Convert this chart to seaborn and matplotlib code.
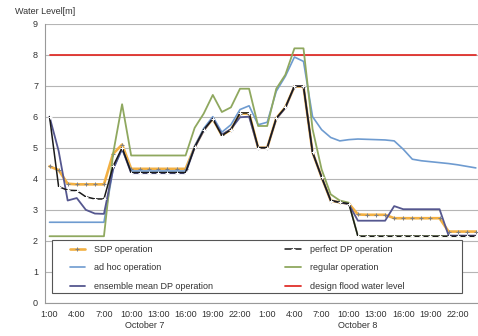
import matplotlib
matplotlib.use("Agg")
import matplotlib.pyplot as plt
from matplotlib.patches import Rectangle
import seaborn as sns

# --- data (hourly, 1:00 Oct 7 .. 24:00 Oct 8) ---
hours = list(range(48))
tick_pos = list(range(0, 48, 3))
tick_labels = ["1:00", "4:00", "7:00", "10:00", "13:00", "16:00", "19:00", "22:00"] * 2
day_labels = ["October 7", "October 8"]

sdp = [4.40, 4.28, 3.84, 3.82, 3.82, 3.82, 3.82, 4.80, 5.10, 4.32, 4.32, 4.32,
       4.32, 4.32, 4.32, 4.32, 5.02, 5.57, 5.93, 5.40, 5.58, 6.10, 6.10, 5.00,
       5.00, 5.95, 6.30, 6.97, 6.97, 4.85, 4.05, 3.30, 3.24, 3.20, 2.85, 2.84,
       2.84, 2.84, 2.73, 2.73, 2.73, 2.73, 2.73, 2.73, 2.30, 2.30, 2.30, 2.30]
ad_hoc = [2.60, 2.60, 2.60, 2.60, 2.60, 2.60, 2.60, 4.30, 4.95, 4.25, 4.25, 4.25,
          4.25, 4.25, 4.25, 4.25, 5.05, 5.62, 6.00, 5.50, 5.74, 6.23, 6.35, 5.74,
          5.82, 6.82, 7.30, 7.92, 7.78, 6.00, 5.58, 5.33, 5.22, 5.26, 5.28, 5.27,
          5.26, 5.25, 5.22, 4.95, 4.63, 4.58, 4.55, 4.52, 4.49, 4.45, 4.40, 4.35]
ensemble = [6.00, 4.90, 3.30, 3.38, 3.00, 2.88, 2.87, 4.30, 4.97, 4.18, 4.18, 4.18,
            4.18, 4.18, 4.18, 4.18, 5.00, 5.55, 5.95, 5.42, 5.60, 5.98, 6.00, 5.00,
            5.00, 5.93, 6.28, 6.98, 6.98, 4.85, 4.05, 3.30, 3.24, 3.18, 2.65, 2.65,
            2.65, 2.65, 3.12, 3.02, 3.02, 3.02, 3.02, 3.02, 2.17, 2.17, 2.17, 2.17]
perfect = [6.00, 3.75, 3.63, 3.62, 3.42, 3.35, 3.35, 4.40, 5.00, 4.20, 4.20, 4.20,
           4.20, 4.20, 4.20, 4.20, 5.02, 5.58, 5.93, 5.39, 5.58, 6.12, 6.12, 5.00,
           5.00, 5.95, 6.30, 6.98, 6.98, 4.85, 4.05, 3.30, 3.24, 3.20, 2.15, 2.15,
           2.15, 2.15, 2.15, 2.15, 2.15, 2.15, 2.15, 2.15, 2.15, 2.15, 2.15, 2.15]
regular = [2.15, 2.15, 2.15, 2.15, 2.15, 2.15, 2.15, 4.80, 6.40, 4.75, 4.75, 4.75,
           4.75, 4.75, 4.75, 4.75, 5.64, 6.10, 6.70, 6.15, 6.30, 6.90, 6.90, 5.70,
           5.70, 6.90, 7.35, 8.20, 8.20, 5.60, 4.30, 3.50, 3.30, 3.23, 2.15, 2.15,
           2.15, 2.15, 2.15, 2.15, 2.15, 2.15, 2.15, 2.15, 2.15, 2.15, 2.15, 2.15]
design_level = [8.0] * 48

sns.set_style("white")
plt.rcParams['font.family'] = ['Liberation Sans', 'DejaVu Sans']

fig = plt.figure(figsize=(4.78, 3.36), dpi=100)
ax = fig.add_axes([45 / 478, 33 / 336, 433 / 478, 279.5 / 336])

sns.lineplot(x=hours, y=design_level, ax=ax, color='#E0302B', linewidth=1.3,
             label='design flood water level')
sns.lineplot(x=hours, y=sdp, ax=ax, color='#F2B043', linewidth=1.9, marker='+',
             markersize=3.5, markeredgecolor='#808080', label='SDP operation')
sns.lineplot(x=hours, y=ad_hoc, ax=ax, color='#6E9BD0', linewidth=1.2,
             label='ad hoc operation')
sns.lineplot(x=hours, y=regular, ax=ax, color='#8FA85F', linewidth=1.3,
             label='regular operation')
sns.lineplot(x=hours, y=ensemble, ax=ax, color='#55578F', linewidth=1.3,
             label='ensemble mean DP operation')
sns.lineplot(x=hours, y=perfect, ax=ax, color='#1A1A1A', linewidth=1.1, marker='+',
             markersize=2.5, markeredgewidth=0.7, label='perfect DP operation')

ax.set_xlim(-0.5, 47.24)
ax.set_ylim(0, 9)
ax.set_yticks(range(10))
ax.set_xticks(tick_pos)
ax.set_xticklabels(tick_labels)
ax.yaxis.grid(True, color='#B5B5B5', linewidth=0.8)
ax.xaxis.grid(False)
ax.set_axisbelow(True)
for s in ['top', 'right']:
    ax.spines[s].set_visible(False)
for s in ['left', 'bottom']:
    ax.spines[s].set_color('#999999')
    ax.spines[s].set_linewidth(0.8)
ax.tick_params(axis='x', length=0, pad=5, labelsize=6.5, labelcolor='#333333')
ax.tick_params(axis='y', length=3, color='#999999', pad=2, labelsize=6.5,
               labelcolor='#333333')
ax.set_xlabel('')
ax.set_ylabel('')

for xpos, txt in zip([10.5, 34], day_labels):
    ax.text(xpos, -0.082, txt, transform=ax.get_xaxis_transform(), ha='center',
            va='center', fontsize=6.5, color='#333333')

fig.text(0.031, 0.965, 'Water Level[m]', fontsize=6.5, ha='left', va='center',
         color='#333333')

# legend box + frameless legend inside
ax.add_patch(Rectangle((0.016, 0.036), 0.947, 0.19, transform=ax.transAxes,
                       facecolor='white', edgecolor='#555555', linewidth=0.8,
                       zorder=2.5))
handles, labels = ax.get_legend_handles_labels()
order = ['SDP operation', 'ad hoc operation', 'ensemble mean DP operation',
         'perfect DP operation', 'regular operation', 'design flood water level']
hmap = dict(zip(labels, handles))
leg = ax.legend([hmap[k] for k in order], order, loc='center',
                bbox_to_anchor=(0.4434, 0.1254), frameon=False, ncol=2,
                fontsize=6.5, handlelength=1.7, handletextpad=1.0,
                columnspacing=8.0, labelspacing=1.05, borderpad=0)
for t in leg.get_texts():
    t.set_color('#333333')
leg.set_zorder(5)

fig.savefig('out.png', dpi=100)
